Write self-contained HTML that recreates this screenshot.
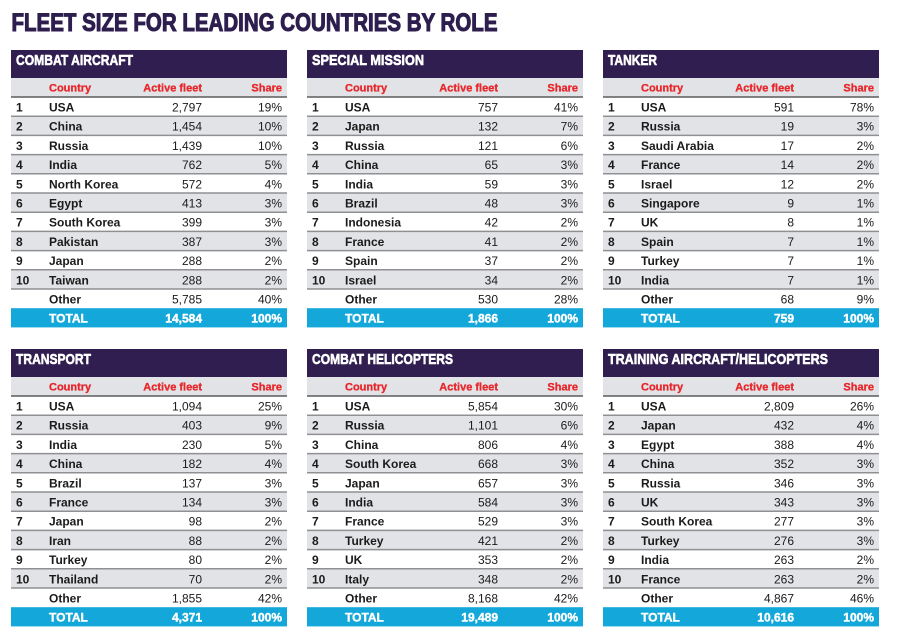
<!DOCTYPE html>
<html><head><meta charset="utf-8"><style>
html,body{margin:0;padding:0;background:#fff;}
svg{display:block;}
.h{font:bold 15px "Liberation Sans",sans-serif;fill:#fff;stroke:#fff;stroke-width:0.6px;}
.c{font:bold 11px "Liberation Sans",sans-serif;fill:#e8262b;stroke:#e8262b;stroke-width:0.3px;}
.b{font:bold 12px "Liberation Sans",sans-serif;fill:#1b1b1b;}
.n{font:12px "Liberation Sans",sans-serif;fill:#1b1b1b;text-anchor:end;}
.e{text-anchor:end;}
.t{font:bold 12px "Liberation Sans",sans-serif;fill:#fff;stroke:#fff;stroke-width:0.4px;}
.ti{font:bold 25px "Liberation Sans",sans-serif;fill:#2d1e4e;stroke:#2d1e4e;stroke-width:1.1px;}
</style></head><body>
<svg width="900" height="641" viewBox="0 0 900 641" xmlns="http://www.w3.org/2000/svg">
<defs>
<g id="bg">
<rect x="0" y="0" width="276" height="28" fill="#2f1e4f"/>
<rect x="0" y="28" width="276" height="19" fill="#e1e3e6"/>
<rect x="0" y="66.2" width="276" height="19.2" fill="#e1e3e6"/>
<rect x="0" y="104.6" width="276" height="19.2" fill="#e1e3e6"/>
<rect x="0" y="143" width="276" height="19.2" fill="#e1e3e6"/>
<rect x="0" y="181.4" width="276" height="19.2" fill="#e1e3e6"/>
<rect x="0" y="219.8" width="276" height="19.2" fill="#e1e3e6"/>
<rect x="0" y="258.2" width="276" height="19.2" fill="#14a8da"/>
<g stroke="#8e9093" stroke-width="1.5">
<line x1="0" x2="276" y1="47" y2="47" stroke="#5a5c5f"/>
<line x1="0" x2="276" y1="66.2" y2="66.2"/>
<line x1="0" x2="276" y1="85.4" y2="85.4"/>
<line x1="0" x2="276" y1="104.6" y2="104.6"/>
<line x1="0" x2="276" y1="123.8" y2="123.8"/>
<line x1="0" x2="276" y1="143" y2="143"/>
<line x1="0" x2="276" y1="162.2" y2="162.2"/>
<line x1="0" x2="276" y1="181.4" y2="181.4"/>
<line x1="0" x2="276" y1="200.6" y2="200.6"/>
<line x1="0" x2="276" y1="219.8" y2="219.8"/>
<line x1="0" x2="276" y1="239" y2="239"/>
</g>
</g>
</defs>

<text class="ti" x="11.5" y="31" textLength="486" lengthAdjust="spacingAndGlyphs">FLEET SIZE FOR LEADING COUNTRIES BY ROLE</text>

<!-- Panel 1: Combat aircraft -->
<g transform="translate(11,50)">
<use href="#bg"/>
<text class="h" x="5" y="15" textLength="117" lengthAdjust="spacingAndGlyphs">COMBAT AIRCRAFT</text>
<text class="c" x="38" y="41.5">Country</text><text class="c e" x="191" y="41.5">Active fleet</text><text class="c e" x="271" y="41.5">Share</text>
<text class="b" x="5" y="61.5">1</text><text class="b" x="38" y="61.5">USA</text><text class="n" x="191" y="61.5">2,797</text><text class="n" x="271" y="61.5">19%</text>
<text class="b" x="5" y="80.7">2</text><text class="b" x="38" y="80.7">China</text><text class="n" x="191" y="80.7">1,454</text><text class="n" x="271" y="80.7">10%</text>
<text class="b" x="5" y="99.9">3</text><text class="b" x="38" y="99.9">Russia</text><text class="n" x="191" y="99.9">1,439</text><text class="n" x="271" y="99.9">10%</text>
<text class="b" x="5" y="119.1">4</text><text class="b" x="38" y="119.1">India</text><text class="n" x="191" y="119.1">762</text><text class="n" x="271" y="119.1">5%</text>
<text class="b" x="5" y="138.3">5</text><text class="b" x="38" y="138.3">North Korea</text><text class="n" x="191" y="138.3">572</text><text class="n" x="271" y="138.3">4%</text>
<text class="b" x="5" y="157.5">6</text><text class="b" x="38" y="157.5">Egypt</text><text class="n" x="191" y="157.5">413</text><text class="n" x="271" y="157.5">3%</text>
<text class="b" x="5" y="176.7">7</text><text class="b" x="38" y="176.7">South Korea</text><text class="n" x="191" y="176.7">399</text><text class="n" x="271" y="176.7">3%</text>
<text class="b" x="5" y="195.9">8</text><text class="b" x="38" y="195.9">Pakistan</text><text class="n" x="191" y="195.9">387</text><text class="n" x="271" y="195.9">3%</text>
<text class="b" x="5" y="215.1">9</text><text class="b" x="38" y="215.1">Japan</text><text class="n" x="191" y="215.1">288</text><text class="n" x="271" y="215.1">2%</text>
<text class="b" x="5" y="234.3">10</text><text class="b" x="38" y="234.3">Taiwan</text><text class="n" x="191" y="234.3">288</text><text class="n" x="271" y="234.3">2%</text>
<text class="b" x="38" y="253.5">Other</text><text class="n" x="191" y="253.5">5,785</text><text class="n" x="271" y="253.5">40%</text>
<text class="t" x="38" y="272.7">TOTAL</text><text class="t e" x="191" y="272.7">14,584</text><text class="t e" x="271" y="272.7">100%</text>
</g>

<!-- Panel 2: Special mission -->
<g transform="translate(307,50)">
<use href="#bg"/>
<text class="h" x="5" y="15" textLength="112" lengthAdjust="spacingAndGlyphs">SPECIAL MISSION</text>
<text class="c" x="38" y="41.5">Country</text><text class="c e" x="191" y="41.5">Active fleet</text><text class="c e" x="271" y="41.5">Share</text>
<text class="b" x="5" y="61.5">1</text><text class="b" x="38" y="61.5">USA</text><text class="n" x="191" y="61.5">757</text><text class="n" x="271" y="61.5">41%</text>
<text class="b" x="5" y="80.7">2</text><text class="b" x="38" y="80.7">Japan</text><text class="n" x="191" y="80.7">132</text><text class="n" x="271" y="80.7">7%</text>
<text class="b" x="5" y="99.9">3</text><text class="b" x="38" y="99.9">Russia</text><text class="n" x="191" y="99.9">121</text><text class="n" x="271" y="99.9">6%</text>
<text class="b" x="5" y="119.1">4</text><text class="b" x="38" y="119.1">China</text><text class="n" x="191" y="119.1">65</text><text class="n" x="271" y="119.1">3%</text>
<text class="b" x="5" y="138.3">5</text><text class="b" x="38" y="138.3">India</text><text class="n" x="191" y="138.3">59</text><text class="n" x="271" y="138.3">3%</text>
<text class="b" x="5" y="157.5">6</text><text class="b" x="38" y="157.5">Brazil</text><text class="n" x="191" y="157.5">48</text><text class="n" x="271" y="157.5">3%</text>
<text class="b" x="5" y="176.7">7</text><text class="b" x="38" y="176.7">Indonesia</text><text class="n" x="191" y="176.7">42</text><text class="n" x="271" y="176.7">2%</text>
<text class="b" x="5" y="195.9">8</text><text class="b" x="38" y="195.9">France</text><text class="n" x="191" y="195.9">41</text><text class="n" x="271" y="195.9">2%</text>
<text class="b" x="5" y="215.1">9</text><text class="b" x="38" y="215.1">Spain</text><text class="n" x="191" y="215.1">37</text><text class="n" x="271" y="215.1">2%</text>
<text class="b" x="5" y="234.3">10</text><text class="b" x="38" y="234.3">Israel</text><text class="n" x="191" y="234.3">34</text><text class="n" x="271" y="234.3">2%</text>
<text class="b" x="38" y="253.5">Other</text><text class="n" x="191" y="253.5">530</text><text class="n" x="271" y="253.5">28%</text>
<text class="t" x="38" y="272.7">TOTAL</text><text class="t e" x="191" y="272.7">1,866</text><text class="t e" x="271" y="272.7">100%</text>
</g>

<!-- Panel 3: Tanker -->
<g transform="translate(603,50)">
<use href="#bg"/>
<text class="h" x="5" y="15" textLength="49" lengthAdjust="spacingAndGlyphs">TANKER</text>
<text class="c" x="38" y="41.5">Country</text><text class="c e" x="191" y="41.5">Active fleet</text><text class="c e" x="271" y="41.5">Share</text>
<text class="b" x="5" y="61.5">1</text><text class="b" x="38" y="61.5">USA</text><text class="n" x="191" y="61.5">591</text><text class="n" x="271" y="61.5">78%</text>
<text class="b" x="5" y="80.7">2</text><text class="b" x="38" y="80.7">Russia</text><text class="n" x="191" y="80.7">19</text><text class="n" x="271" y="80.7">3%</text>
<text class="b" x="5" y="99.9">3</text><text class="b" x="38" y="99.9">Saudi Arabia</text><text class="n" x="191" y="99.9">17</text><text class="n" x="271" y="99.9">2%</text>
<text class="b" x="5" y="119.1">4</text><text class="b" x="38" y="119.1">France</text><text class="n" x="191" y="119.1">14</text><text class="n" x="271" y="119.1">2%</text>
<text class="b" x="5" y="138.3">5</text><text class="b" x="38" y="138.3">Israel</text><text class="n" x="191" y="138.3">12</text><text class="n" x="271" y="138.3">2%</text>
<text class="b" x="5" y="157.5">6</text><text class="b" x="38" y="157.5">Singapore</text><text class="n" x="191" y="157.5">9</text><text class="n" x="271" y="157.5">1%</text>
<text class="b" x="5" y="176.7">7</text><text class="b" x="38" y="176.7">UK</text><text class="n" x="191" y="176.7">8</text><text class="n" x="271" y="176.7">1%</text>
<text class="b" x="5" y="195.9">8</text><text class="b" x="38" y="195.9">Spain</text><text class="n" x="191" y="195.9">7</text><text class="n" x="271" y="195.9">1%</text>
<text class="b" x="5" y="215.1">9</text><text class="b" x="38" y="215.1">Turkey</text><text class="n" x="191" y="215.1">7</text><text class="n" x="271" y="215.1">1%</text>
<text class="b" x="5" y="234.3">10</text><text class="b" x="38" y="234.3">India</text><text class="n" x="191" y="234.3">7</text><text class="n" x="271" y="234.3">1%</text>
<text class="b" x="38" y="253.5">Other</text><text class="n" x="191" y="253.5">68</text><text class="n" x="271" y="253.5">9%</text>
<text class="t" x="38" y="272.7">TOTAL</text><text class="t e" x="191" y="272.7">759</text><text class="t e" x="271" y="272.7">100%</text>
</g>

<!-- Panel 4: Transport -->
<g transform="translate(11,349)">
<use href="#bg"/>
<text class="h" x="5" y="15" textLength="75" lengthAdjust="spacingAndGlyphs">TRANSPORT</text>
<text class="c" x="38" y="41.5">Country</text><text class="c e" x="191" y="41.5">Active fleet</text><text class="c e" x="271" y="41.5">Share</text>
<text class="b" x="5" y="61.5">1</text><text class="b" x="38" y="61.5">USA</text><text class="n" x="191" y="61.5">1,094</text><text class="n" x="271" y="61.5">25%</text>
<text class="b" x="5" y="80.7">2</text><text class="b" x="38" y="80.7">Russia</text><text class="n" x="191" y="80.7">403</text><text class="n" x="271" y="80.7">9%</text>
<text class="b" x="5" y="99.9">3</text><text class="b" x="38" y="99.9">India</text><text class="n" x="191" y="99.9">230</text><text class="n" x="271" y="99.9">5%</text>
<text class="b" x="5" y="119.1">4</text><text class="b" x="38" y="119.1">China</text><text class="n" x="191" y="119.1">182</text><text class="n" x="271" y="119.1">4%</text>
<text class="b" x="5" y="138.3">5</text><text class="b" x="38" y="138.3">Brazil</text><text class="n" x="191" y="138.3">137</text><text class="n" x="271" y="138.3">3%</text>
<text class="b" x="5" y="157.5">6</text><text class="b" x="38" y="157.5">France</text><text class="n" x="191" y="157.5">134</text><text class="n" x="271" y="157.5">3%</text>
<text class="b" x="5" y="176.7">7</text><text class="b" x="38" y="176.7">Japan</text><text class="n" x="191" y="176.7">98</text><text class="n" x="271" y="176.7">2%</text>
<text class="b" x="5" y="195.9">8</text><text class="b" x="38" y="195.9">Iran</text><text class="n" x="191" y="195.9">88</text><text class="n" x="271" y="195.9">2%</text>
<text class="b" x="5" y="215.1">9</text><text class="b" x="38" y="215.1">Turkey</text><text class="n" x="191" y="215.1">80</text><text class="n" x="271" y="215.1">2%</text>
<text class="b" x="5" y="234.3">10</text><text class="b" x="38" y="234.3">Thailand</text><text class="n" x="191" y="234.3">70</text><text class="n" x="271" y="234.3">2%</text>
<text class="b" x="38" y="253.5">Other</text><text class="n" x="191" y="253.5">1,855</text><text class="n" x="271" y="253.5">42%</text>
<text class="t" x="38" y="272.7">TOTAL</text><text class="t e" x="191" y="272.7">4,371</text><text class="t e" x="271" y="272.7">100%</text>
</g>

<!-- Panel 5: Combat helicopters -->
<g transform="translate(307,349)">
<use href="#bg"/>
<text class="h" x="5" y="15" textLength="141" lengthAdjust="spacingAndGlyphs">COMBAT HELICOPTERS</text>
<text class="c" x="38" y="41.5">Country</text><text class="c e" x="191" y="41.5">Active fleet</text><text class="c e" x="271" y="41.5">Share</text>
<text class="b" x="5" y="61.5">1</text><text class="b" x="38" y="61.5">USA</text><text class="n" x="191" y="61.5">5,854</text><text class="n" x="271" y="61.5">30%</text>
<text class="b" x="5" y="80.7">2</text><text class="b" x="38" y="80.7">Russia</text><text class="n" x="191" y="80.7">1,101</text><text class="n" x="271" y="80.7">6%</text>
<text class="b" x="5" y="99.9">3</text><text class="b" x="38" y="99.9">China</text><text class="n" x="191" y="99.9">806</text><text class="n" x="271" y="99.9">4%</text>
<text class="b" x="5" y="119.1">4</text><text class="b" x="38" y="119.1">South Korea</text><text class="n" x="191" y="119.1">668</text><text class="n" x="271" y="119.1">3%</text>
<text class="b" x="5" y="138.3">5</text><text class="b" x="38" y="138.3">Japan</text><text class="n" x="191" y="138.3">657</text><text class="n" x="271" y="138.3">3%</text>
<text class="b" x="5" y="157.5">6</text><text class="b" x="38" y="157.5">India</text><text class="n" x="191" y="157.5">584</text><text class="n" x="271" y="157.5">3%</text>
<text class="b" x="5" y="176.7">7</text><text class="b" x="38" y="176.7">France</text><text class="n" x="191" y="176.7">529</text><text class="n" x="271" y="176.7">3%</text>
<text class="b" x="5" y="195.9">8</text><text class="b" x="38" y="195.9">Turkey</text><text class="n" x="191" y="195.9">421</text><text class="n" x="271" y="195.9">2%</text>
<text class="b" x="5" y="215.1">9</text><text class="b" x="38" y="215.1">UK</text><text class="n" x="191" y="215.1">353</text><text class="n" x="271" y="215.1">2%</text>
<text class="b" x="5" y="234.3">10</text><text class="b" x="38" y="234.3">Italy</text><text class="n" x="191" y="234.3">348</text><text class="n" x="271" y="234.3">2%</text>
<text class="b" x="38" y="253.5">Other</text><text class="n" x="191" y="253.5">8,168</text><text class="n" x="271" y="253.5">42%</text>
<text class="t" x="38" y="272.7">TOTAL</text><text class="t e" x="191" y="272.7">19,489</text><text class="t e" x="271" y="272.7">100%</text>
</g>

<!-- Panel 6: Training -->
<g transform="translate(603,349)">
<use href="#bg"/>
<text class="h" x="5" y="15" textLength="220" lengthAdjust="spacingAndGlyphs">TRAINING AIRCRAFT/HELICOPTERS</text>
<text class="c" x="38" y="41.5">Country</text><text class="c e" x="191" y="41.5">Active fleet</text><text class="c e" x="271" y="41.5">Share</text>
<text class="b" x="5" y="61.5">1</text><text class="b" x="38" y="61.5">USA</text><text class="n" x="191" y="61.5">2,809</text><text class="n" x="271" y="61.5">26%</text>
<text class="b" x="5" y="80.7">2</text><text class="b" x="38" y="80.7">Japan</text><text class="n" x="191" y="80.7">432</text><text class="n" x="271" y="80.7">4%</text>
<text class="b" x="5" y="99.9">3</text><text class="b" x="38" y="99.9">Egypt</text><text class="n" x="191" y="99.9">388</text><text class="n" x="271" y="99.9">4%</text>
<text class="b" x="5" y="119.1">4</text><text class="b" x="38" y="119.1">China</text><text class="n" x="191" y="119.1">352</text><text class="n" x="271" y="119.1">3%</text>
<text class="b" x="5" y="138.3">5</text><text class="b" x="38" y="138.3">Russia</text><text class="n" x="191" y="138.3">346</text><text class="n" x="271" y="138.3">3%</text>
<text class="b" x="5" y="157.5">6</text><text class="b" x="38" y="157.5">UK</text><text class="n" x="191" y="157.5">343</text><text class="n" x="271" y="157.5">3%</text>
<text class="b" x="5" y="176.7">7</text><text class="b" x="38" y="176.7">South Korea</text><text class="n" x="191" y="176.7">277</text><text class="n" x="271" y="176.7">3%</text>
<text class="b" x="5" y="195.9">8</text><text class="b" x="38" y="195.9">Turkey</text><text class="n" x="191" y="195.9">276</text><text class="n" x="271" y="195.9">3%</text>
<text class="b" x="5" y="215.1">9</text><text class="b" x="38" y="215.1">India</text><text class="n" x="191" y="215.1">263</text><text class="n" x="271" y="215.1">2%</text>
<text class="b" x="5" y="234.3">10</text><text class="b" x="38" y="234.3">France</text><text class="n" x="191" y="234.3">263</text><text class="n" x="271" y="234.3">2%</text>
<text class="b" x="38" y="253.5">Other</text><text class="n" x="191" y="253.5">4,867</text><text class="n" x="271" y="253.5">46%</text>
<text class="t" x="38" y="272.7">TOTAL</text><text class="t e" x="191" y="272.7">10,616</text><text class="t e" x="271" y="272.7">100%</text>
</g>
</svg>
</body></html>
